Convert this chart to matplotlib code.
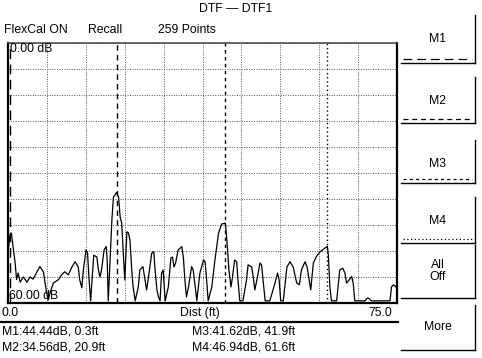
import matplotlib
matplotlib.use("Agg")
import matplotlib.pyplot as plt
from matplotlib.lines import Line2D

plt.rcParams['font.family'] = ['Liberation Sans', 'DejaVu Sans']

# trace (distance in ft, return loss in dB)
dist_ft = [0.0, 0.3, 0.6, 1.0, 1.3, 1.6, 1.9, 2.3, 2.9, 3.6, 4.2, 4.8, 5.5, 6.1,
           6.8, 7.1, 7.4, 7.7, 8.1, 8.7, 9.7, 10.3, 10.9, 11.6, 12.2, 12.9, 13.5,
           13.8, 14.2, 14.5, 15.0, 15.3, 15.6, 15.9, 16.3, 16.5, 17.1, 17.4, 17.7,
           18.0, 18.5, 18.9, 19.1, 19.3, 19.6, 20.0, 20.3, 20.9, 21.3, 21.6, 21.9,
           22.2, 22.5, 22.6, 22.9, 23.2, 23.5, 23.8, 24.1, 24.5, 25.1, 25.4, 26.0,
           26.4, 26.7, 27.0, 27.7, 28.1, 28.3, 28.7, 29.0, 29.3, 29.6, 29.9, 30.3,
           30.9, 31.4, 31.7, 32.0, 32.3, 32.8, 33.5, 33.8, 34.1, 34.4, 34.8, 35.4,
           35.7, 36.1, 36.4, 37.0, 37.7, 38.0, 38.3, 38.6, 39.3, 39.9, 40.6, 41.2,
           41.9, 42.0, 42.3, 42.6, 43.0, 43.3, 43.7, 44.1, 44.3, 44.7, 45.3, 46.0,
           46.3, 47.0, 47.3, 47.6, 48.0, 48.6, 48.9, 49.2, 49.6, 50.5, 51.5, 52.0,
           52.3, 52.6, 53.1, 53.8, 54.4, 55.0, 55.7, 56.2, 56.6, 57.3, 57.7, 58.1,
           58.4, 58.9, 59.5, 60.2, 61.6, 61.8, 62.1, 62.4, 63.4, 64.0, 64.6, 65.0,
           65.3, 65.8, 66.3, 66.6, 66.9, 68.9, 69.3, 69.6, 70.1, 73.7, 74.0, 74.4,
           75.0]
rl_db = [47.8, 44.44, 43.9, 47.8, 50.5, 54.6, 53.1, 55.2, 54.0, 55.2, 54.0, 54.5,
         52.9, 51.6, 52.9, 55.4, 57.7, 59.3, 57.5, 55.4, 54.6, 53.5, 52.8, 53.5,
         51.9, 50.5, 51.7, 54.7, 56.5, 52.4, 47.8, 48.5, 54.7, 59.5, 52.4, 49.0,
         49.4, 52.4, 54.0, 52.4, 47.8, 47.0, 50.1, 59.5, 51.7, 40.9, 35.6, 34.56,
         35.6, 40.2, 41.6, 48.5, 54.7, 51.7, 43.6, 43.9, 45.5, 51.7, 56.3, 59.5,
         56.3, 52.4, 51.6, 54.7, 57.0, 54.7, 48.5, 48.2, 51.7, 57.0, 58.6, 59.5,
         53.1, 52.4, 59.5, 56.3, 49.6, 49.4, 51.7, 50.8, 47.8, 47.0, 49.4, 54.7,
         58.6, 56.3, 51.6, 52.4, 56.3, 59.5, 53.1, 50.1, 50.5, 54.7, 59.5, 56.3,
         50.1, 43.9, 41.8, 41.62, 42.7, 47.1, 52.4, 56.3, 54.0, 50.1, 50.5, 54.0,
         59.5, 59.5, 54.7, 51.2, 51.7, 54.0, 57.0, 54.7, 50.8, 51.2, 54.7, 59.5,
         59.5, 55.4, 53.1, 54.7, 59.5, 59.5, 51.7, 50.5, 51.7, 55.4, 55.8, 52.4,
         50.5, 51.7, 54.7, 57.0, 50.8, 49.3, 48.2, 46.94, 48.9, 56.3, 59.5, 59.5,
         52.4, 52.0, 53.1, 55.4, 54.7, 53.9, 55.4, 59.5, 59.5, 58.9, 58.9, 59.5,
         59.5, 56.3, 55.8, 56.5]

marker_names = ["M1", "M2", "M3", "M4"]
marker_dist = [0.3, 20.9, 41.9, 61.6]
marker_db = [44.44, 34.56, 41.62, 46.94]
marker_dash = [(0, (7, 4)), (0, (4, 3)), (0, (2.5, 2.5)), (0, (1, 2))]

softkeys = ["M1", "M2", "M3", "M4", "All\nOff", "More"]

W, H = 482, 358
fig = plt.figure(figsize=(W / 100, H / 100), dpi=100)
fig.patch.set_facecolor("white")

# plot area
x0, x1, y0, y1 = 8.3, 396.7, 42.5, 303.0
ax = fig.add_axes([x0 / W, 1 - y1 / H, (x1 - x0) / W, (y1 - y0) / H])
ax.set_xlim(0, 75)
ax.set_ylim(60, 0)
ax.set_xticks([i * 7.5 for i in range(11)])
ax.set_yticks([i * 6 for i in range(11)])
ax.tick_params(length=0, labelbottom=False, labelleft=False)
ax.grid(True, color="#555555", lw=0.7, ls=(0, (1, 1.5)))
for s in ax.spines.values():
    s.set_linewidth(1.6)
    s.set_color("black")
ax.spines["top"].set_linewidth(1.1)
ax.spines["top"].set_color("#444444")

ax.plot(dist_ft, rl_db, color="black", lw=0.9)
for d, ls in zip(marker_dist, marker_dash):
    ax.axvline(d, color="black", lw=1.0, ls=ls)

# overlay in pixel coords for the screen furniture, drawn on top
ov = fig.add_axes([0, 0, 1, 1])
ov.set_xlim(0, W)
ov.set_ylim(H, 0)
ov.axis("off")
ov.set_zorder(10)

fs = 8.8
ov.text(236, 9, "DTF \u2014 DTF1", ha="center", va="center", fontsize=fs)
ov.text(4, 30, "FlexCal ON", ha="left", va="center", fontsize=fs)
ov.text(88, 30, "Recall", ha="left", va="center", fontsize=fs)
ov.text(158, 30, "259 Points", ha="left", va="center", fontsize=fs)
ov.text(10, 49, "0.00 dB", ha="left", va="center", fontsize=fs)
ov.text(9, 296, "60.00 dB", ha="left", va="center", fontsize=fs)
ov.text(2, 313, "0.0", ha="left", va="center", fontsize=fs)
ov.text(200, 313, "Dist (ft)", ha="center", va="center", fontsize=fs)
ov.text(392, 313, "75.0", ha="right", va="center", fontsize=fs)
ov.add_line(Line2D([0, 398], [322, 322], color="black", lw=1.6))

for i, (n, db, d) in enumerate(zip(marker_names, marker_db, marker_dist)):
    tx = 2 if i < 2 else 192
    ty = 331 if i % 2 == 0 else 347
    ov.text(tx, ty, f"{n}:{db:.2f}dB, {d}ft", ha="left", va="center", fontsize=fs)

# softkey panel
tops = [15, 77, 140, 197, 245, 305]
bots = [63, 123, 183, 243, 298, 350]
for i, lab in enumerate(softkeys):
    t, b = tops[i], bots[i]
    ov.add_line(Line2D([475, 475], [t, b], color="black", lw=1.0))
    ov.add_line(Line2D([401, 475], [b, b], color="black", lw=1.0))
    if i < 4:
        ov.text(438, t + 24, lab, ha="center", va="center", fontsize=fs)
        ov.add_line(Line2D([403, 472], [b - 4, b - 4], color="black", lw=0.9,
                           ls=marker_dash[i]))
    else:
        ov.text(438, (t + b) / 2, lab, ha="center", va="center", fontsize=fs,
                linespacing=1.0)

fig.savefig("out.png", dpi=100, facecolor="white")
